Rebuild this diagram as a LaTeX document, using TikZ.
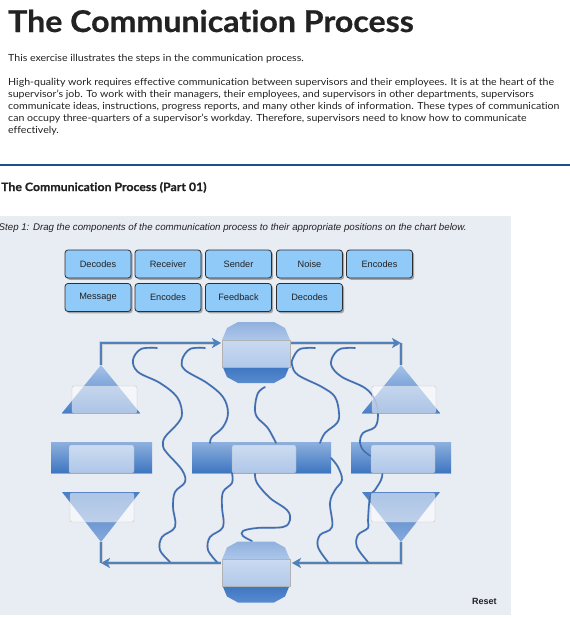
\documentclass[tikz,border=0pt]{standalone}
\usepackage{fontspec}
\setmainfont{Lato}
\newfontfamily\ttlfont[FakeStretch=1.07,Ligatures=NoCommon,BoldFeatures={FakeBold=0.6}]{Lato}
\newfontfamily\bodyfont[FakeStretch=1.08,Ligatures=NoCommon]{Lato}
\newfontfamily\arialfont{Liberation Sans}
\usetikzlibrary{arrows.meta,shadows}
\definecolor{panel}{HTML}{E8ECF3}
\definecolor{rulec}{HTML}{1F4E8F}
\definecolor{txt}{HTML}{222222}
\definecolor{btnfill}{HTML}{90CAF9}
\definecolor{btnborder}{HTML}{2E2E2E}
\definecolor{flowc}{HTML}{4F81BD}
\definecolor{noisec}{HTML}{3E6FB5}
\definecolor{octA}{HTML}{8EAFDD}
\definecolor{octB}{HTML}{AEC7EA}
\definecolor{octC}{HTML}{3E76C1}
\definecolor{octD}{HTML}{5A8DD0}
\definecolor{bandT}{HTML}{C9DAF1}
\definecolor{bandB}{HTML}{B1C9EA}
\definecolor{triL}{HTML}{A6C2E8}
\definecolor{triD}{HTML}{4A7EC6}
\definecolor{triM}{HTML}{86AADC}
\definecolor{barT}{HTML}{8DB0DE}
\definecolor{barB}{HTML}{3D75C0}
\definecolor{innT}{HTML}{CCDCF1}
\definecolor{innB}{HTML}{AEC6E8}
\newcommand{\mkoct}{%
  \begin{scope}
    \clip (-18,-31) -- (18,-31) -- (29,-25) -- (34,-13) -- (34,12) -- (29,24) -- (18,30) -- (-18,30) -- (-29,24) -- (-34,12) -- (-34,-13) -- (-29,-25) -- cycle;
    \shade[top color=octA, bottom color=octB] (-35,-32) rectangle (35,-13);
    \shade[top color=octC, bottom color=octD] (-35,14) rectangle (35,31);
    \shade[top color=bandT, bottom color=bandB] (-35,-13) rectangle (35,14);
  \end{scope}
  \draw[gray!60, line width=0.4pt] (-34,-13) rectangle (34,14);
}
\begin{document}
\begin{tikzpicture}[x=1pt,y=-1pt,
  btn/.style={draw=btnborder, line width=0.8pt, fill=btnfill, rounded corners=3pt,
    minimum width=66pt, minimum height=28pt, inner sep=0pt,
    font=\arialfont\fontsize{9.2}{11}\selectfont, text=txt,
    drop shadow={shadow xshift=1.6pt, shadow yshift=-1.8pt, opacity=0.3, fill=black}},
  txtnode/.style={anchor=base west, inner sep=0pt, text=txt},
  bodytxt/.style={txtnode, font=\bodyfont\fontsize{9.8}{12}\selectfont},
  flowline/.style={draw=flowc, line width=2.4pt, preaction={draw=gray!60, line width=3.2pt, opacity=0.45}},
  arrowtip/.style={-{Stealth[length=9pt,width=10pt,inset=2.5pt]}},
  noiseline/.style={draw=noisec, line width=1.6pt, line cap=round, line join=round,
    preaction={draw=gray!70, line width=2.3pt, opacity=0.35}},
  veil/.style={fill=white, fill opacity=0.55, draw=gray!45, line width=0.4pt, rounded corners=2pt},
  innerbox/.style={top color=innT, bottom color=innB, draw=gray!60, line width=0.4pt, rounded corners=2pt},
]
\useasboundingbox (0,0) rectangle (570,619);
\fill[white] (0,0) rectangle (570,619);

% ---------- header texts ----------
\node[txtnode, font=\ttlfont\bfseries\fontsize{30}{36}\selectfont] (title) at (8,32) {The Communication Process};
\node[bodytxt] (intro) at (8,61) {This exercise illustrates the steps in the communication process.};
\node[bodytxt] (p1) at (8,85) {High-quality work requires effective communication between supervisors and their employees. It is at the heart of the};
\node[bodytxt] (p2) at (8,97.2) {supervisor’s job. To work with their managers, their employees, and supervisors in other departments, supervisors};
\node[bodytxt] (p3) at (8,109.4) {communicate ideas, instructions, progress reports, and many other kinds of information. These types of communication};
\node[bodytxt] (p4) at (8,121.6) {can occupy three-quarters of a supervisor’s workday. Therefore, supervisors need to know how to communicate};
\node[bodytxt] (p5) at (8,133.8) {effectively.};
\draw[rulec, line width=1.3pt] (0,165) -- (570,165);
\node[txtnode, font=\ttlfont\bfseries\fontsize{11.5}{13}\selectfont] (part) at (1,191) {The Communication Process (Part 01)};

% ---------- panel ----------
\fill[panel] (0,216) rectangle (511,615);
\node[txtnode, font=\arialfont\itshape\fontsize{9.7}{11}\selectfont] (step) at (-1.5,230) {Step 1: Drag the components of the communication process to their appropriate positions on the chart below.};

% ---------- buttons ----------
\node[btn] (b1) at (98,264) {Decodes};
\node[btn] (b2) at (168,264) {Receiver};
\node[btn] (b3) at (238.5,264) {Sender};
\node[btn] (b4) at (309.5,264) {Noise};
\node[btn] (b5) at (379.5,264) {Encodes};
\node[btn] (b6) at (98,297.5) {Message};
\node[btn] (b7) at (168,297.5) {Encodes};
\node[btn] (b8) at (238.5,297.5) {Feedback};
\node[btn] (b9) at (309.5,297.5) {Decodes};

% ---------- named points of the chart ----------
\coordinate (triLU) at (101,365);
\coordinate (cTL) at (101,343);
\coordinate (octTw) at (221,343);
\coordinate (octTe) at (290,343);
\coordinate (cTR) at (401,343);
\coordinate (triRU) at (401,365);
\coordinate (triRD) at (401,542);
\coordinate (octBe) at (292,563);
\coordinate (octBw) at (221,563);
\coordinate (cBL) at (101,563);
\coordinate (triLD) at (101,542);

% ---------- flow arrows ----------
\draw[flowline, arrowtip] (triLU) |- (octTw);
\draw[flowline, arrowtip] (octTe) -- (cTR);
\draw[flowline] (cTR) -- (triRU);
\draw[flowline, arrowtip] (triRD) |- (octBe);
\draw[flowline, arrowtip] (octBw) -- (cBL);
\draw[flowline] (cBL) -- (triLD);

% ---------- shapes ----------
% up triangles
\shade[top color=triL, bottom color=triD] (101,365) -- (140,413) -- (62,413) -- cycle;
\draw[gray!70, line width=1pt] (62,413.5) -- (140,413.5);
\shade[top color=triL, bottom color=triD] (401,365) -- (440,413) -- (362,413) -- cycle;
\draw[gray!70, line width=1pt] (362,413.5) -- (440,413.5);
% down triangles
\shade[top color=triD, bottom color=triM] (62,492) -- (140,492) -- (101,542) -- cycle;
\shade[top color=triD, bottom color=triM] (362,492) -- (440,492) -- (401,542) -- cycle;
% bars
\shade[top color=barT, bottom color=barB] (51,442) rectangle (152,473);
\draw[gray!70, line width=0.8pt] (51,473.5) -- (152,473.5);
\shade[top color=barT, bottom color=barB] (192,442) rectangle (331,473);
\draw[gray!70, line width=0.8pt] (192,473.5) -- (331,473.5);
\shade[top color=barT, bottom color=barB] (351,442) rectangle (451,473);
\draw[gray!70, line width=0.8pt] (351,473.5) -- (451,473.5);
% octagons
\begin{scope}[shift={(256,353)}]\mkoct\end{scope}
\begin{scope}[shift={(256,572.5)}]\mkoct\end{scope}

% ---------- noise lines ----------
\draw[noiseline] plot[smooth, tension=0.6] coordinates {(157,348) (141,349) (133,360) (138,372) (160,383) (177,397) (182,413) (178,423) (165,437) (163,446) (167,453) (182,470) (185,482) (175,492) (173,507) (175,527) (162,537) (160,550) (170,562)};
\draw[noiseline] plot[smooth, tension=0.6] coordinates {(205,348) (190,349) (182,360) (185,370) (207,383) (223,397) (228,413) (223,427) (212,437) (210,443)};
\draw[noiseline] plot[smooth, tension=0.6] coordinates {(265,387) (258,393) (255,407) (257,417) (267,427) (273,437) (276,443)};
\draw[noiseline] plot[smooth, tension=0.6] coordinates {(315,348) (300,349) (293,358) (292,365) (298,375) (322,387) (335,397) (339,413) (337,423) (325,433) (320,443)};
\draw[noiseline] plot[smooth, tension=0.6] coordinates {(355,348) (340,349) (332,358) (332,367) (342,377) (365,388) (375,400) (378,415) (375,427) (363,433) (360,443) (365,452) (380,463) (382,477) (375,490) (370,497) (368,520) (368,528) (358,535) (357,547) (368,562)};
\draw[noiseline] plot[smooth, tension=0.6] coordinates {(232,473) (232,483) (223,492) (222,507) (223,527) (210,537) (208,550) (217,562)};
\draw[noiseline] plot[smooth, tension=0.6] coordinates {(255,473) (257,483) (270,498) (287,510) (290,520) (283,527) (257,528) (243,531) (243,536) (252,541)};
\draw[noiseline] plot[smooth, tension=0.6] coordinates {(331,458) (338,467) (342,480) (335,490) (330,503) (332,527) (320,535) (318,547) (328,562)};

% ---------- overlays (drop targets) ----------
\path[veil] (72,386) rectangle (137,413);
\path[veil] (372,386) rectangle (436,413);
\path[veil] (70,493) rectangle (134,522);
\path[veil] (371,493) rectangle (435,522);
\path[innerbox] (69,445) rectangle (134,473);
\path[innerbox] (232,445) rectangle (296,473);
\path[innerbox] (371,445) rectangle (435,473);

\node[txtnode, font=\arialfont\bfseries\fontsize{9}{11}\selectfont] (reset) at (472,604) {Reset};
\end{tikzpicture}
\end{document}
